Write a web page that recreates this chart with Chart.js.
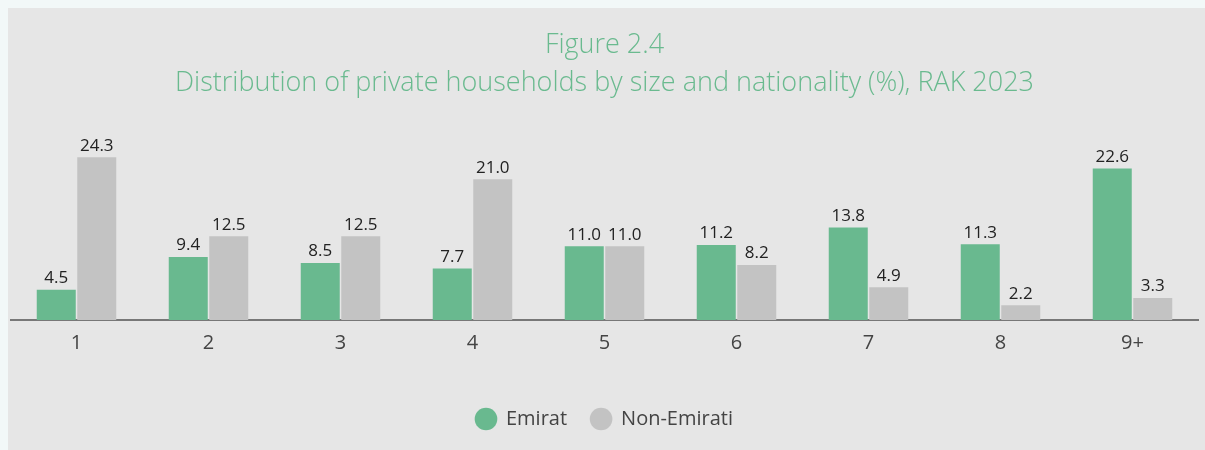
<!DOCTYPE html>
<html>
<head>
<meta charset="utf-8">
<script src="https://cdn.jsdelivr.net/npm/chart.js@4/dist/chart.umd.min.js"></script>
<style>
  html, body { margin: 0; padding: 0; background: #f2f8f8; }
  .panel { position: absolute; left: 8px; top: 8px; width: 1197px; height: 442px; background: #e6e6e6; }
</style>
</head>
<body>
<div class="panel"><canvas id="chart" width="1197" height="442"></canvas></div>
<script>
// household size categories
const sizes = ['1', '2', '3', '4', '5', '6', '7', '8', '9+'];

// share of households (%)
const emirati = [4.5, 9.4, 8.5, 7.7, 11.0, 11.2, 13.8, 11.3, 22.6];
const nonEmirati = [24.3, 12.5, 12.5, 21.0, 11.0, 8.2, 4.9, 2.2, 3.3];

const titleLines = ['Figure 2.4', 'Distribution of private households by size and nationality (%), RAK 2023'];

// small plugin for the numbers above the bars
const valueLabels = {
  id: 'valueLabels',
  afterDatasetsDraw(chart) {
    const ctx = chart.ctx;
    ctx.save();
    ctx.font = '17px "Open Sans", sans-serif';
    ctx.fillStyle = '#222';
    ctx.textAlign = 'center';
    ctx.textBaseline = 'bottom';
    chart.data.datasets.forEach((ds, i) => {
      chart.getDatasetMeta(i).data.forEach((bar, j) => {
        ctx.fillText(ds.data[j].toFixed(1), bar.x, bar.y - 3);
      });
    });
    ctx.restore();
  }
};

new Chart(document.getElementById('chart'), {
  type: 'bar',
  data: {
    labels: sizes,
    datasets: [
      { label: 'Emirat', data: emirati, backgroundColor: '#69b98f' },
      { label: 'Non-Emirati', data: nonEmirati, backgroundColor: '#c3c3c3' }
    ]
  },
  options: {
    responsive: false,
    animation: false,
    categoryPercentage: 0.6136,
    barPercentage: 0.963,
    layout: { padding: { left: 2.5, right: 6.5, top: 0, bottom: 11 } },
    plugins: {
      title: {
        display: true,
        text: titleLines,
        color: '#6aba8f',
        font: { family: '"Open Sans", sans-serif', size: 27, weight: 300, lineHeight: 38 / 27 },
        padding: { top: 18, bottom: 17 }
      },
      legend: {
        position: 'bottom',
        labels: {
          usePointStyle: true,
          pointStyle: 'circle',
          boxWidth: 20,
          boxHeight: 16,
          padding: 24,
          color: '#444',
          font: { family: '"Open Sans", sans-serif', size: 20 }
        }
      },
      tooltip: { enabled: false }
    },
    scales: {
      x: {
        grid: { display: false, drawTicks: false },
        border: { display: true, color: '#777', width: 2 },
        ticks: { color: '#444', padding: 11, font: { family: '"Open Sans", sans-serif', size: 20 } },
        afterFit(scale) { scale.height = 65; }
      },
      y: {
        display: false,
        min: 0,
        max: 30
      }
    }
  },
  plugins: [valueLabels]
});
</script>
</body>
</html>
